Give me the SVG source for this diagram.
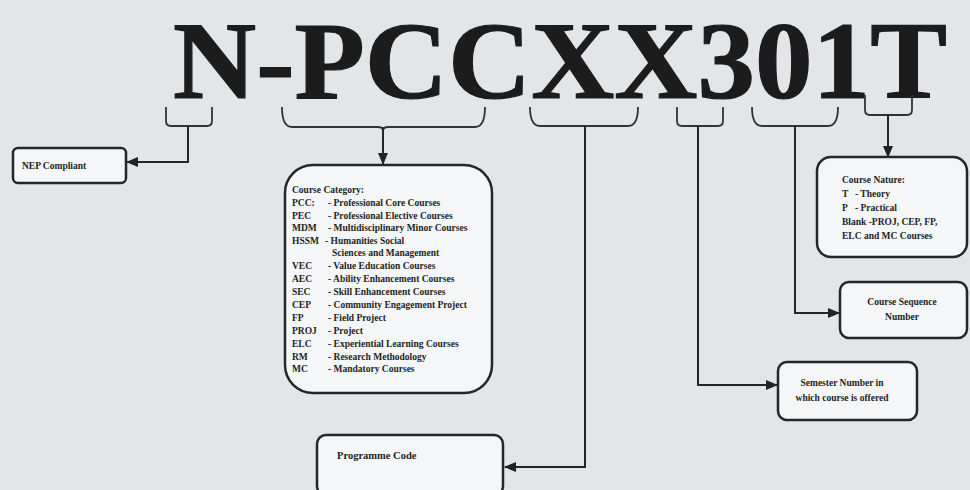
<svg xmlns="http://www.w3.org/2000/svg" width="970" height="490" viewBox="0 0 970 490">
<defs>
<marker id="arr" markerUnits="userSpaceOnUse" markerWidth="12" markerHeight="10" refX="11" refY="5" orient="auto">
<path d="M0,0 L12,5 L0,10 Z" fill="#222"/>
</marker>
<style>
.box{fill:#f4f6f7;stroke:#262626;stroke-width:2.5}
.con{fill:none;stroke:#262626;stroke-width:2}
.br{fill:none;stroke:#333;stroke-width:1.8}
.t{font-family:"Liberation Serif","Times New Roman",serif;font-weight:bold;fill:#1e1e1e}
.s{font-size:9.5px}
.title{font-size:111px;fill:#1c1c1c;stroke:#1c1c1c;stroke-width:1.2}
</style>
</defs>
<rect x="0" y="0" width="970" height="490" fill="#e2e6e8"/>

<g id="title">
<text class="t title" x="173" y="98" textLength="774" lengthAdjust="spacingAndGlyphs">N-PCCXX301T</text>
</g>

<g id="connectors">
<path class="br" d="M166,107 L166,121 Q166,126 171,126 L207,126 Q212,126 212,121 L212,107"/>
<path class="br" d="M282,107 Q282,127 292,127 L378,127 Q383,127 383,131 Q383,127 388,127 L475,127 Q485,127 485,107"/>
<path class="br" d="M530,107 Q530,126 540,126 L628,126 Q638,126 638,107"/>
<path class="br" d="M677,107 L677,121 Q677,126 682,126 L718,126 Q723,126 723,121 L723,107"/>
<path class="br" d="M752,107 Q752,126 762,126 L828,126 Q838,126 838,107"/>
<path class="br" d="M865,95 L865,110 Q865,115 870,115 L907,115 Q912,115 912,110 L912,95"/>
<path class="con" d="M188,126 L188,162 L127,162" marker-end="url(#arr)"/>
<path class="con" d="M383,127 L383,164" marker-end="url(#arr)"/>
<path class="con" d="M585,126 L585,467 L505,467" marker-end="url(#arr)"/>
<path class="con" d="M698,126 L698,385 L777,385" marker-end="url(#arr)"/>
<path class="con" d="M795,126 L795,313 L839,313" marker-end="url(#arr)"/>
<path class="con" d="M888,115 L888,157" marker-end="url(#arr)"/>
</g>

<g id="nep">
<rect class="box" x="13" y="148" width="113" height="35" rx="5"/>
<text class="t s" x="22" y="169">NEP Compliant</text>
</g>

<g id="category">
<rect class="box" x="285" y="165" width="207" height="228" rx="28"/>
<text class="t s" x="292" y="193">Course Category:</text>
<text class="t s" y="206"><tspan x="292">PCC:</tspan><tspan x="328">- Professional Core Courses</tspan></text>
<text class="t s" y="218.5"><tspan x="292">PEC</tspan><tspan x="328">- Professional Elective Courses</tspan></text>
<text class="t s" y="231"><tspan x="292">MDM</tspan><tspan x="328">- Multidisciplinary Minor Courses</tspan></text>
<text class="t s" y="244"><tspan x="292">HSSM</tspan><tspan x="325">- Humanities Social</tspan></text>
<text class="t s" x="332" y="256">Sciences and Management</text>
<text class="t s" y="269"><tspan x="292">VEC</tspan><tspan x="328">- Value Education Courses</tspan></text>
<text class="t s" y="282"><tspan x="292">AEC</tspan><tspan x="328">- Ability Enhancement Courses</tspan></text>
<text class="t s" y="294.5"><tspan x="292">SEC</tspan><tspan x="328">- Skill Enhancement Courses</tspan></text>
<text class="t s" y="308"><tspan x="292">CEP</tspan><tspan x="328">- Community Engagement Project</tspan></text>
<text class="t s" y="320.5"><tspan x="292">FP</tspan><tspan x="328">- Field Project</tspan></text>
<text class="t s" y="333.5"><tspan x="292">PROJ</tspan><tspan x="328">- Project</tspan></text>
<text class="t s" y="346.5"><tspan x="292">ELC</tspan><tspan x="328">- Experiential Learning Courses</tspan></text>
<text class="t s" y="360"><tspan x="292">RM</tspan><tspan x="328">- Research Methodology</tspan></text>
<text class="t s" y="372"><tspan x="292">MC</tspan><tspan x="328">- Mandatory Courses</tspan></text>
</g>

<g id="nature">
<rect class="box" x="817" y="157" width="150" height="100" rx="14"/>
<text class="t s" x="842" y="183">Course Nature:</text>
<text class="t s" y="197"><tspan x="842">T</tspan><tspan x="855">- Theory</tspan></text>
<text class="t s" y="211"><tspan x="842">P</tspan><tspan x="855">- Practical</tspan></text>
<text class="t s" x="842" y="225">Blank -PROJ, CEP, FP,</text>
<text class="t s" x="842" y="239">ELC and MC Courses</text>
</g>

<g id="sequence">
<rect class="box" x="840" y="282" width="127" height="56" rx="9"/>
<text class="t s" x="902" y="305" text-anchor="middle">Course Sequence</text>
<text class="t s" x="902" y="320" text-anchor="middle">Number</text>
</g>

<g id="semester">
<rect class="box" x="778" y="362" width="139" height="58" rx="9"/>
<text class="t s" x="842" y="386" text-anchor="middle">Semester Number in</text>
<text class="t s" x="842" y="401" text-anchor="middle">which course is offered</text>
</g>

<g id="programme">
<rect class="box" x="317" y="435" width="186" height="60" rx="9"/>
<text class="t" x="337" y="459" font-size="10.5">Programme Code</text>
</g>
</svg>
